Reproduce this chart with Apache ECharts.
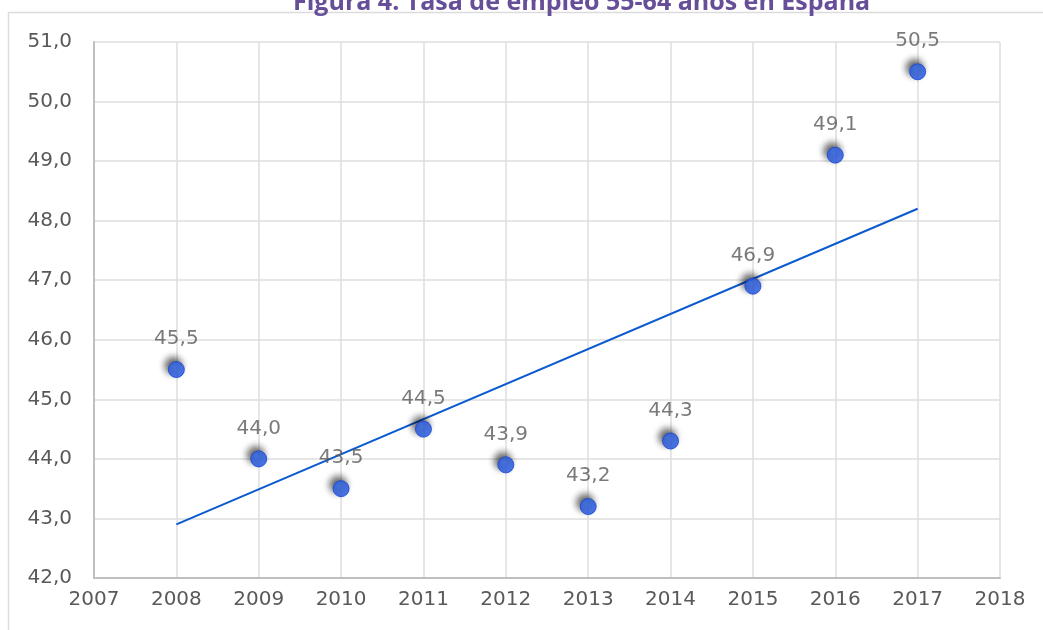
<!DOCTYPE html>
<html>
<head>
<meta charset="utf-8">
<script src="https://cdn.jsdelivr.net/npm/echarts@6/dist/echarts.min.js"></script>
<style>
  html, body { margin: 0; padding: 0; background: #fff; }
  #chart { width: 1043px; height: 630px; }
</style>
</head>
<body>
<div id="chart"></div>
<script>
var years = [2008, 2009, 2010, 2011, 2012, 2013, 2014, 2015, 2016, 2017];
var tasa = [45.5, 44.0, 43.5, 44.5, 43.9, 43.2, 44.3, 46.9, 49.1, 50.5];
// linea de tendencia (extremos)
var trendYears = [2008, 2017];
var trendValues = [42.9, 48.2];

function drawChart() {
    var myChart = echarts.init(document.getElementById('chart'));
    var labelFont = 'DejaVu Sans';
    var option = {
        animation: false,
        title: {
            text: 'Figura 4. Tasa de empleo 55-64 años en España',
            left: 288,
            top: -15,
            textStyle: {
                color: '#664f98',
                fontFamily: 'Open Sans',
                fontWeight: 'bold',
                fontSize: 25
            }
        },
        graphic: [
            {
                type: 'rect',
                shape: { x: 8.5, y: 12.5, width: 1100, height: 700 },
                style: { fill: 'none', stroke: '#dcdcdc', lineWidth: 1.5 },
                z: -1
            }
        ],
        grid: {
            left: 94,
            right: 43,
            top: 42,
            bottom: 52
        },
        xAxis: {
            type: 'value',
            min: 2007,
            max: 2018,
            interval: 1,
            axisLine: { show: true, lineStyle: { color: '#bfbfbf', width: 2 } },
            axisTick: { show: false },
            splitLine: { show: true, lineStyle: { color: '#dedede', width: 1.5 } },
            axisLabel: {
                color: '#595959',
                fontFamily: labelFont,
                fontSize: 20,
                margin: 12,
                formatter: function (v) { return String(v); }
            }
        },
        yAxis: {
            type: 'value',
            min: 42,
            max: 51,
            interval: 1,
            axisLine: { show: true, lineStyle: { color: '#bfbfbf', width: 2 } },
            axisTick: { show: false },
            splitLine: { show: true, lineStyle: { color: '#dedede', width: 1.5 } },
            axisLabel: {
                color: '#595959',
                fontFamily: labelFont,
                fontSize: 20,
                margin: 22,
                formatter: function (v) { return v.toFixed(1).replace('.', ','); }
            }
        },
        series: [
            {
                name: 'Tendencia',
                type: 'line',
                data: trendYears.map(function (y, i) { return [y, trendValues[i]]; }),
                symbol: 'none',
                lineStyle: { color: '#0b5ad0', width: 2 },
                z: 2
            },
            {
                name: 'Tasa de empleo',
                type: 'scatter',
                data: years.map(function (y, i) { return [y, tasa[i]]; }),
                symbol: 'circle',
                symbolSize: 16,
                itemStyle: {
                    color: {
                        type: 'radial', x: 0.4, y: 0.35, r: 0.7,
                        colorStops: [
                            { offset: 0, color: '#3f78ff' },
                            { offset: 1, color: '#1a4ee6' }
                        ]
                    },
                    borderColor: '#1745d0',
                    borderWidth: 1,
                    shadowBlur: 7,
                    shadowColor: 'rgba(0,0,0,0.8)',
                    shadowOffsetX: -3,
                    shadowOffsetY: -4
                },
                label: {
                    show: true,
                    position: 'top',
                    distance: 12,
                    color: '#595959',
                    fontFamily: labelFont,
                    fontSize: 20,
                    formatter: function (p) { return p.value[1].toFixed(1).replace('.', ','); }
                },
                z: 3
            }
        ]
    };
    myChart.setOption(option);
}

drawChart();
</script>
</body>
</html>
